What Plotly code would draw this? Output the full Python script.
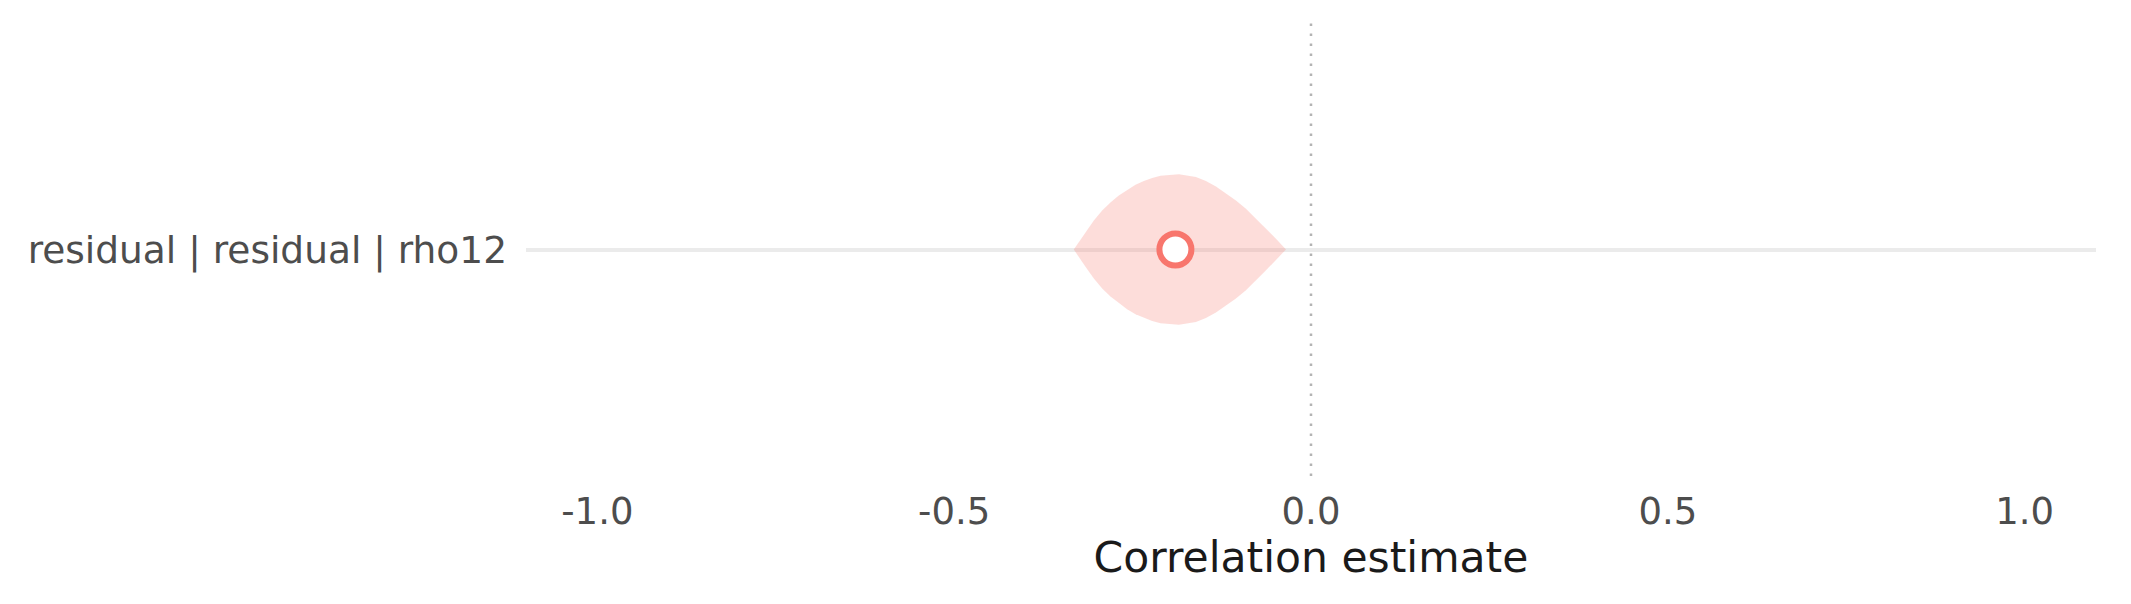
import plotly.graph_objects as go

# Data
category = "residual | residual | rho12"
estimate = -0.19
density_x = [-0.3324, -0.3254, -0.316, -0.3043, -0.2926, -0.281, -0.2693, -0.2576,
             -0.2459, -0.2342, -0.2225, -0.2108, -0.1992, -0.1851, -0.1613, -0.1473,
             -0.1332, -0.1192, -0.1052, -0.0912, -0.0771, -0.0631, -0.0491, -0.0351]
density_half = [0.0, 0.016, 0.038, 0.064, 0.086, 0.104, 0.119, 0.132,
                0.143, 0.151, 0.158, 0.163, 0.165, 0.166, 0.160, 0.151,
                0.139, 0.124, 0.108, 0.090, 0.068, 0.046, 0.024, 0.0]
x_ticks = [-1.0, -0.5, 0.0, 0.5, 1.0]
x_tick_labels = ["-1.0", "-0.5", "0.0", "0.5", "1.0"]

RED = "#F8766D"
FONT = "DejaVu Sans"

yc = 0
xs = density_x + density_x[::-1]
ys = [yc + d for d in density_half] + [yc - d for d in density_half[::-1]]

fig = go.Figure()
fig.add_trace(go.Scatter(
    x=xs, y=ys, mode="lines", fill="toself",
    fillcolor="rgba(248,118,109,0.25)",
    line=dict(width=0, color="rgba(0,0,0,0)"),
    hoverinfo="skip", showlegend=False,
))
fig.add_trace(go.Scatter(
    x=[estimate], y=[yc], mode="markers",
    marker=dict(size=32, color="white", line=dict(color=RED, width=6)),
    showlegend=False,
))

fig.add_shape(type="line", xref="x", yref="paper", x0=0, x1=0, y0=0, y1=1,
              line=dict(color="#b3b3b3", width=2.5, dash="2.5px,7.5px"))

fig.update_layout(
    width=2131, height=604,
    margin=dict(l=526, r=35, t=23, b=128),
    paper_bgcolor="white", plot_bgcolor="white",
    font=dict(family=FONT, size=37.5, color="#4d4d4d"),
    xaxis=dict(
        range=[-1.1, 1.1], tickvals=x_ticks, ticktext=x_tick_labels,
        showgrid=False, zeroline=False, showline=False, ticks="",
        ticklabelstandoff=10,
        tickfont=dict(family=FONT, size=37, color="#4d4d4d"),
        title=dict(text="Correlation estimate", standoff=8,
                   font=dict(family=FONT, size=42.5, color="#1a1a1a")),
    ),
    yaxis=dict(
        range=[-0.5, 0.5], tickvals=[yc], ticktext=[category],
        showgrid=True, gridcolor="#ebebeb", gridwidth=3.5,
        zeroline=False, showline=False, ticks="", ticklabelstandoff=18,
        tickfont=dict(family=FONT, size=37.5, color="#4d4d4d"),
    ),
)

fig.write_html("out.html")
